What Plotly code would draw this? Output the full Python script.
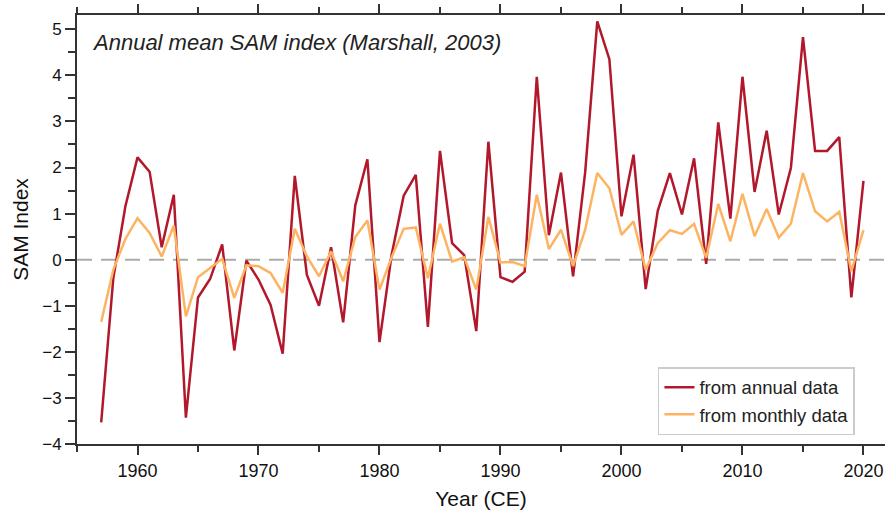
import plotly.graph_objects as go

# Southern Annular Mode index, 1957-2020
years = list(range(1957, 2021))

sam_annual = [
    -3.53, -0.40, 1.16, 2.22, 1.91, 0.27, 1.41, -3.43, -0.82, -0.42,
    0.33, -1.97, -0.02, -0.43, -0.98, -2.04, 1.82, -0.33, -1.00, 0.27,
    -1.36, 1.18, 2.18, -1.79, 0.10, 1.39, 1.84, -1.46, 2.36, 0.36,
    0.10, -1.55, 2.56, -0.38, -0.48, -0.26, 3.97, 0.53, 1.89, -0.36,
    1.90, 5.17, 4.35, 0.94, 2.28, -0.64, 1.06, 1.88, 0.98, 2.20,
    -0.09, 2.98, 0.89, 3.97, 1.47, 2.80, 0.98, 1.99, 4.83, 2.36,
    2.36, 2.66, -0.82, 1.71,
]

sam_monthly = [
    -1.35, -0.22, 0.45, 0.90, 0.58, 0.07, 0.74, -1.23, -0.38, -0.18,
    0.02, -0.83, -0.12, -0.14, -0.29, -0.72, 0.67, 0.07, -0.36, 0.18,
    -0.47, 0.49, 0.85, -0.65, 0.05, 0.67, 0.70, -0.40, 0.78, -0.04,
    0.05, -0.65, 0.93, -0.06, -0.05, -0.14, 1.41, 0.23, 0.65, -0.14,
    0.65, 1.88, 1.55, 0.54, 0.83, -0.22, 0.36, 0.64, 0.56, 0.78,
    0.04, 1.21, 0.40, 1.43, 0.51, 1.10, 0.48, 0.78, 1.88, 1.05,
    0.83, 1.04, -0.25, 0.64,
]

x_ticks = [1960, 1970, 1980, 1990, 2000, 2010, 2020]
y_ticks = [-4, -3, -2, -1, 0, 1, 2, 3, 4, 5]
y_labels = ["\u22124", "\u22123", "\u22122", "\u22121", "0", "1", "2", "3", "4", "5"]

x_range = [1955, 2021.78]
y_range = [-4, 5.31]

RED = "#B2182B"
ORANGE = "#FDB462"
AXIS = "#333333"
FONT = "Liberation Sans, Arial, Helvetica, sans-serif"

fig = go.Figure()

fig.add_shape(
    type="line", xref="x", yref="y",
    x0=x_range[0], x1=x_range[1], y0=0, y1=0,
    line=dict(color="#AAAAAA", width=2, dash="15px,9px"),
    layer="below",
)

fig.add_trace(go.Scatter(
    x=years, y=sam_annual, mode="lines", name="from annual data",
    line=dict(color=RED, width=2.5),
))
fig.add_trace(go.Scatter(
    x=years, y=sam_monthly, mode="lines", name="from monthly data",
    line=dict(color=ORANGE, width=2.5),
))

fig.add_annotation(
    text="<i>Annual mean SAM index (Marshall, 2003)</i>",
    xref="paper", yref="paper", x=0.0155, y=0.937,
    xanchor="left", yanchor="middle", showarrow=False,
    font=dict(family=FONT, size=22, color="#222222"),
)

fig.update_layout(
    width=885, height=515,
    margin=dict(l=77, r=0, t=15, b=71),
    paper_bgcolor="white", plot_bgcolor="white",
    font=dict(family=FONT, color="#111111"),
    showlegend=True,
    legend=dict(
        x=0.719, y=0.179, xanchor="left", yanchor="top",
        bgcolor="white", bordercolor="#CCCCCC", borderwidth=1.5,
        font=dict(family=FONT, size=18.5, color="#222222"),
        tracegroupgap=0, itemwidth=30,
    ),
    xaxis=dict(
        range=x_range, tickvals=x_ticks, ticktext=[str(v) for v in x_ticks],
        showgrid=False, zeroline=False,
        showline=True, linecolor=AXIS, linewidth=2, mirror="ticks",
        ticks="outside", ticklen=9, tickwidth=2, tickcolor=AXIS,
        tickfont=dict(family=FONT, size=18, color="#111111"),
        minor=dict(dtick=5, tick0=1955, ticks="outside", ticklen=6,
                   tickwidth=2, tickcolor=AXIS),
        title=dict(text="Year (CE)", font=dict(family=FONT, size=21, color="#111111"),
                   standoff=12),
    ),
    yaxis=dict(
        range=y_range, tickvals=y_ticks, ticktext=y_labels,
        showgrid=False, zeroline=False,
        showline=True, linecolor=AXIS, linewidth=2,
        ticks="outside", ticklen=10, tickwidth=2, tickcolor=AXIS,
        tickfont=dict(family=FONT, size=17, color="#111111"),
        minor=dict(dtick=0.5, tick0=0, ticks="outside", ticklen=7,
                   tickwidth=2, tickcolor=AXIS),
        title=dict(text="SAM Index", font=dict(family=FONT, size=21, color="#111111"),
                   standoff=8),
    ),
)

fig.write_html("out.html")
